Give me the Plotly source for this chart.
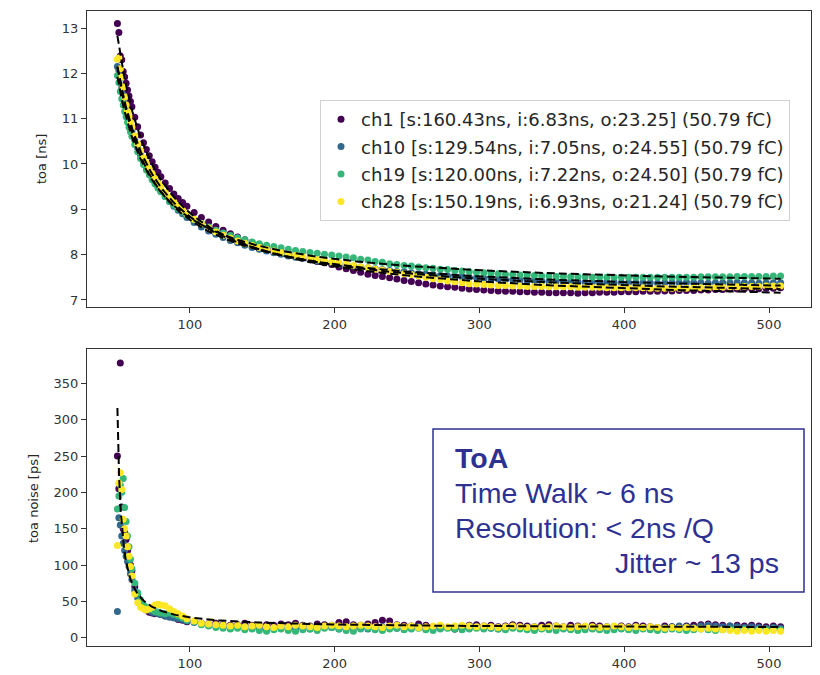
import numpy as np
import plotly.graph_objects as go

# injected charge points (shared by all channels)
charge = [50, 51, 52, 53, 54, 55, 56, 57, 58, 59, 60, 62, 64, 66, 68, 70, 72, 74, 76, 78, 80,
          83, 86, 89, 92, 95, 98] + list(range(103, 509, 5))

channels = ["ch1", "ch10", "ch19", "ch28"]
colors = ["#440154", "#31688e", "#35b779", "#fde725"]

# fit parameters toa = s / (q - o) + i
fit_s = [160.43, 129.54, 120.00, 150.19]
fit_i = [6.83, 7.05, 7.22, 6.93]
fit_o = [23.25, 24.55, 24.50, 21.24]
thr_fc = [50.79, 50.79, 50.79, 50.79]

# toa noise fit a / (q - o) + c
noise_fit_a = 788.0
noise_fit_o = 47.4
noise_fit_c = 13.0

toa_ch1 = [13.10, 12.90, 12.38, 12.30, 12.04, 11.92, 11.78, 11.63, 11.50, 11.38, 11.26, 11.03, 10.82,
           10.64, 10.47, 10.32, 10.18, 10.05, 9.93, 9.82, 9.72, 9.58, 9.46, 9.34, 9.24, 9.15, 9.07,
           8.93, 8.82, 8.72, 8.62, 8.54, 8.46, 8.39, 8.33, 8.27, 8.21, 8.16, 8.10, 8.06, 8.01, 7.97,
           7.93, 7.89, 7.85, 7.82, 7.78, 7.73, 7.69, 7.65, 7.61, 7.57, 7.54, 7.52, 7.49, 7.46, 7.43,
           7.41, 7.38, 7.35, 7.33, 7.31, 7.29, 7.28, 7.26, 7.24, 7.23, 7.22, 7.21, 7.20, 7.19, 7.19,
           7.18, 7.18, 7.17, 7.17, 7.16, 7.16, 7.16, 7.16, 7.15, 7.16, 7.16, 7.17, 7.17, 7.17, 7.18,
           7.18, 7.18, 7.19, 7.19, 7.19, 7.20, 7.20, 7.21, 7.21, 7.21, 7.22, 7.22, 7.23, 7.23, 7.24,
           7.24, 7.25, 7.25, 7.25, 7.26, 7.26, 7.27]
toa_ch10 = [12.15, 12.07, 11.90, 11.70, 11.52, 11.34, 11.20, 11.07, 10.95, 10.83, 10.72, 10.53, 10.35,
            10.19, 10.05, 9.92, 9.80, 9.69, 9.58, 9.49, 9.40, 9.28, 9.17, 9.07, 8.98, 8.90, 8.82,
            8.71, 8.61, 8.52, 8.45, 8.38, 8.31, 8.26, 8.21, 8.16, 8.12, 8.08, 8.04, 8.01, 7.97, 7.94,
            7.92, 7.89, 7.86, 7.84, 7.82, 7.79, 7.77, 7.75, 7.73, 7.71, 7.69, 7.67, 7.65, 7.63, 7.62,
            7.60, 7.58, 7.57, 7.56, 7.54, 7.53, 7.52, 7.51, 7.50, 7.49, 7.48, 7.47, 7.46, 7.45, 7.45,
            7.44, 7.43, 7.43, 7.42, 7.41, 7.41, 7.40, 7.40, 7.40, 7.39, 7.39, 7.39, 7.39, 7.39, 7.38,
            7.38, 7.38, 7.38, 7.38, 7.37, 7.38, 7.38, 7.38, 7.39, 7.38, 7.38, 7.37, 7.38, 7.38, 7.38,
            7.39, 7.38, 7.38, 7.37, 7.38, 7.38, 7.38]
toa_ch19 = [11.95, 11.80, 11.60, 11.44, 11.30, 11.16, 11.04, 10.92, 10.81, 10.71, 10.61, 10.43, 10.27,
            10.12, 9.99, 9.87, 9.76, 9.65, 9.56, 9.47, 9.39, 9.28, 9.18, 9.09, 9.01, 8.94, 8.87,
            8.77, 8.69, 8.61, 8.54, 8.48, 8.42, 8.37, 8.33, 8.28, 8.24, 8.21, 8.18, 8.15, 8.12, 8.09,
            8.07, 8.05, 8.03, 8.01, 7.99, 7.97, 7.95, 7.93, 7.90, 7.88, 7.85, 7.83, 7.80, 7.78, 7.76,
            7.75, 7.73, 7.71, 7.70, 7.68, 7.67, 7.65, 7.64, 7.62, 7.61, 7.60, 7.59, 7.58, 7.57, 7.56,
            7.55, 7.55, 7.54, 7.53, 7.53, 7.52, 7.52, 7.51, 7.51, 7.51, 7.50, 7.50, 7.50, 7.50, 7.50,
            7.50, 7.50, 7.50, 7.50, 7.50, 7.50, 7.50, 7.50, 7.50, 7.50, 7.51, 7.51, 7.51, 7.51, 7.51,
            7.52, 7.52, 7.52, 7.52, 7.52, 7.53, 7.53]
toa_ch28 = [12.31, 12.34, 12.10, 11.92, 11.70, 11.48, 11.30, 11.16, 11.04, 10.92, 10.81, 10.62, 10.44,
            10.29, 10.14, 10.01, 9.89, 9.78, 9.67, 9.58, 9.49, 9.37, 9.26, 9.16, 9.06, 8.98, 8.90,
            8.78, 8.68, 8.59, 8.50, 8.43, 8.36, 8.30, 8.25, 8.20, 8.16, 8.12, 8.08, 8.04, 8.01, 7.98,
            7.95, 7.92, 7.89, 7.87, 7.84, 7.82, 7.79, 7.76, 7.73, 7.71, 7.68, 7.66, 7.63, 7.61, 7.58,
            7.56, 7.53, 7.50, 7.47, 7.45, 7.42, 7.40, 7.38, 7.36, 7.35, 7.34, 7.33, 7.32, 7.32, 7.31,
            7.31, 7.30, 7.30, 7.30, 7.29, 7.29, 7.29, 7.29, 7.28, 7.28, 7.28, 7.28, 7.27, 7.27, 7.27,
            7.27, 7.27, 7.27, 7.26, 7.26, 7.26, 7.26, 7.26, 7.26, 7.27, 7.27, 7.27, 7.28, 7.28, 7.29,
            7.29, 7.30, 7.30, 7.30, 7.31, 7.31, 7.31]

noise_ch1 = [250, 205, 378, 180, 150, 145, 135, 120, 110, 100, 92, 70, 60, 50, 42, 38, 35, 34, 33, 35, 32,
             30, 33, 28, 25, 24, 22,
             22, 20, 19, 20, 18, 17, 18, 20, 17, 16, 18, 17, 19, 18, 20, 17, 16, 19, 18, 17, 21, 22,
             18, 17, 19, 21, 24, 23, 18, 17, 16, 19, 17, 15, 16, 14, 12, 13, 17, 18, 16, 17, 15, 16,
             18, 17, 16, 15, 17, 18, 16, 15, 17, 16, 15, 17, 16, 15, 14, 16, 15, 17, 16, 15, 14, 16,
             15, 14, 16, 17, 18, 19, 18, 17, 16, 17, 16, 17, 16, 15, 16, 15]
noise_ch10 = [36, 165, 155, 140, 130, 120, 112, 105, 98, 88, 80, 65, 55, 48, 42, 40, 38, 35, 34, 33, 32,
              30, 28, 27, 26, 25, 23,
              21, 19, 18, 17, 15, 14, 16, 15, 13, 12, 11, 13, 14, 12, 13, 14, 12, 13, 15, 14, 12, 13,
              14, 13, 12, 14, 15, 14, 13, 12, 14, 15, 13, 12, 13, 14, 12, 13, 14, 15, 14, 13, 12, 13,
              15, 14, 13, 12, 13, 14, 15, 13, 12, 13, 14, 13, 12, 13, 14, 13, 14, 15, 14, 13, 12, 14,
              15, 16, 15, 14, 16, 17, 16, 15, 16, 15, 14, 15, 14, 13, 14, 13]
noise_ch19 = [177, 195, 210, 200, 219, 179, 160, 140, 125, 108, 95, 75, 62, 52, 45, 42, 40, 38, 36, 35, 34,
              33, 34, 32, 30, 27, 24,
              22, 18, 16, 14, 13, 12, 13, 11, 12, 10, 9, 11, 12, 10, 9, 11, 12, 10, 13, 14, 12, 10,
              9, 12, 13, 11, 10, 12, 13, 11, 12, 13, 11, 10, 12, 13, 12, 11, 12, 13, 12, 13, 12, 11,
              13, 12, 11, 10, 12, 11, 10, 12, 11, 10, 11, 12, 11, 10, 11, 12, 11, 10, 12, 11, 10, 11,
              12, 11, 10, 11, 12, 11, 10, 11, 12, 11, 12, 11, 12, 11, 12, 11]
noise_ch28 = [127, 213, 227, 204, 163, 150, 140, 125, 112, 98, 85, 60, 48, 42, 40, 38, 40, 42, 45, 46, 45,
              44, 40, 36, 33, 30, 26,
              23, 20, 19, 18, 17, 16, 17, 15, 16, 17, 15, 14, 16, 15, 17, 16, 15, 14, 16, 17, 16, 15,
              16, 17, 16, 15, 14, 16, 17, 15, 16, 14, 15, 16, 17, 15, 16, 17, 16, 15, 16, 15, 14, 15,
              16, 15, 14, 15, 14, 15, 16, 15, 14, 15, 16, 15, 14, 15, 16, 15, 14, 15, 14, 15, 14, 13,
              14, 13, 14, 13, 12, 13, 12, 11, 10, 9, 10, 9, 10, 9, 10, 9]

toa_data = [toa_ch1, toa_ch10, toa_ch19, toa_ch28]
noise_data = [noise_ch1, noise_ch10, noise_ch19, noise_ch28]

TEXT_BLUE = "#2e3192"
AXIS_COLOR = "#333333"
TICK_FONT = dict(family="DejaVu Sans", size=13, color="#333333")

fig = go.Figure()

# scatter points, top (toa) and bottom (toa noise)
for k in range(4):
    label = "%s [s:%.2fns, i:%.2fns, o:%.2f] (%.2f fC)" % (
        channels[k], fit_s[k], fit_i[k], fit_o[k], thr_fc[k])
    fig.add_trace(go.Scatter(
        x=charge, y=toa_data[k], mode="markers", name=label,
        marker=dict(color=colors[k], size=7, line=dict(width=0)),
        xaxis="x", yaxis="y", legendgroup=channels[k], showlegend=True))
for k in range(4):
    fig.add_trace(go.Scatter(
        x=charge, y=noise_data[k], mode="markers",
        marker=dict(color=colors[k], size=7, line=dict(width=0)),
        xaxis="x2", yaxis="y2", showlegend=False))

# dashed fit curves
q = np.linspace(charge[0], charge[-1], 400)
for k in range(4):
    fig.add_trace(go.Scatter(
        x=q, y=fit_s[k] / (q - fit_o[k]) + fit_i[k], mode="lines",
        line=dict(color="black", width=2, dash="8px,4px"),
        xaxis="x", yaxis="y", showlegend=False, hoverinfo="skip"))
fig.add_trace(go.Scatter(
    x=q, y=noise_fit_a / (q - noise_fit_o) + noise_fit_c, mode="lines",
    line=dict(color="black", width=2, dash="8px,4px"),
    xaxis="x2", yaxis="y2", showlegend=False, hoverinfo="skip"))

axis_common = dict(showline=True, linecolor=AXIS_COLOR, linewidth=1.2, mirror=True,
                   ticks="outside", ticklen=5, tickwidth=1.2, tickcolor=AXIS_COLOR,
                   showgrid=False, zeroline=False, tickfont=TICK_FONT)

x_dom = [87 / 820, 811 / 820]
fig.update_layout(
    width=820, height=675,
    margin=dict(l=0, r=0, t=0, b=0),
    paper_bgcolor="white", plot_bgcolor="white",
    xaxis=dict(domain=x_dom, range=[29, 529], tickvals=[100, 200, 300, 400, 500],
               anchor="y", **axis_common),
    yaxis=dict(domain=[1 - 307 / 675, 1 - 11 / 675], range=[6.845, 13.375],
               tickvals=[7, 8, 9, 10, 11, 12, 13], anchor="x", **axis_common),
    xaxis2=dict(domain=x_dom, range=[29, 529], tickvals=[100, 200, 300, 400, 500],
                anchor="y2", **axis_common),
    yaxis2=dict(domain=[1 - 646 / 675, 1 - 349 / 675], range=[-11.4, 397.2],
                tickvals=[0, 50, 100, 150, 200, 250, 300, 350], anchor="x2", **axis_common),
    legend=dict(x=320 / 820, y=1 - 100 / 675, xanchor="left", yanchor="top",
                bgcolor="white", bordercolor="#d0d0d0", borderwidth=1,
                font=dict(family="DejaVu Sans", size=18, color="#262626"),
                tracegroupgap=1, itemsizing="trace"),
    showlegend=True,
)

# axis titles
fig.add_annotation(text="toa [ns]", x=42 / 820, y=1 - 159 / 675, xref="paper", yref="paper",
                   textangle=-90, showarrow=False, xanchor="center", yanchor="middle",
                   font=dict(family="DejaVu Sans", size=13, color="#262626"))
fig.add_annotation(text="toa noise [ps]", x=33 / 820, y=1 - 499 / 675, xref="paper", yref="paper",
                   textangle=-90, showarrow=False, xanchor="center", yanchor="middle",
                   font=dict(family="DejaVu Sans", size=13, color="#262626"))

# ToA summary box
fig.add_shape(type="rect", xref="paper", yref="paper",
              x0=433 / 820, x1=804 / 820, y0=1 - 592 / 675, y1=1 - 429 / 675,
              line=dict(color=TEXT_BLUE, width=1.5), fillcolor="white")
box_lines = [("<b>ToA</b>", 453, 457.7), ("Time Walk ~ 6 ns", 453, 492.7),
             ("Resolution: < 2ns /Q", 453, 528.3), ("Jitter ~ 13 ps", 613, 563.3)]
for txt, px, py in box_lines:
    fig.add_annotation(text=txt, x=px / 820, y=1 - py / 675, xref="paper", yref="paper",
                       showarrow=False, xanchor="left", yanchor="middle",
                       font=dict(family="Liberation Sans, Arial", size=28.5, color=TEXT_BLUE))

fig.write_html("out.html")
